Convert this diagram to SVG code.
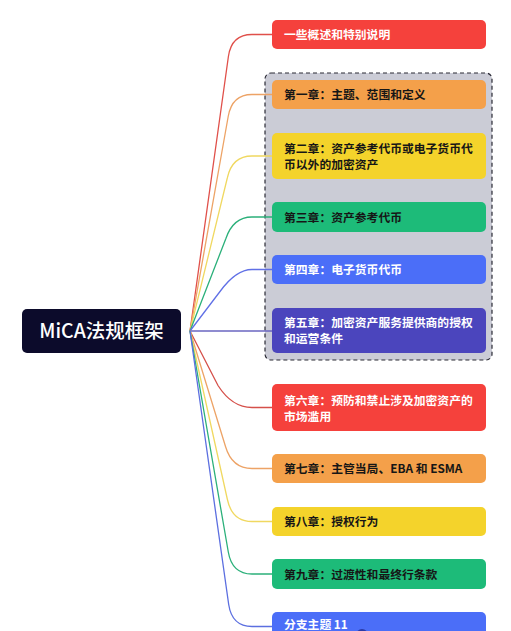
<svg xmlns="http://www.w3.org/2000/svg" width="511" height="631" viewBox="0 0 511 631">
<style>
.t{font-family:"Noto Sans CJK SC","Noto Sans",sans-serif;font-size:11.8px;font-weight:bold}
.w{fill:#ffffff}
.d{fill:#161616}
.c{fill:none;stroke-width:1.3}
</style>
<rect x="0" y="0" width="511" height="631" fill="#ffffff"/>
<g id="group-box">
<rect x="265" y="73" width="227" height="287" rx="6" fill="#cbccd6" stroke="#2a2a35" stroke-width="1.2" stroke-dasharray="4 3"/>
</g>
<g id="connectors">
<path class="c" stroke="#e0504a" d="M190,331 L228.4,56.5 Q231.5,34.5 252,34.5 L272,34.5"/>
<path class="c" stroke="#eda366" d="M190,331 L228.2,116.5 Q232,94.5 252,94.5 L272,94.5"/>
<path class="c" stroke="#f0d860" d="M190,331 L227.3,178 Q232,156 252,156 L272,156"/>
<path class="c" stroke="#2bb07a" d="M190,331 L225.7,239 Q233,217 252,217 L272,217"/>
<path class="c" stroke="#6070e6" d="M190,331 L220,291.5 Q236,269.5 252,269.5 L272,269.5"/>
<path class="c" stroke="#6a66c0" d="M190,331 L272,331"/>
<path class="c" stroke="#d5504a" d="M190,331 L218,385.5 Q232,407.5 252,407.5 L272,407.5"/>
<path class="c" stroke="#eda366" d="M190,331 L225.5,446.5 Q232,468.5 252,468.5 L272,468.5"/>
<path class="c" stroke="#f0d860" d="M190,331 L227.4,499.5 Q232,521.5 252,521.5 L272,521.5"/>
<path class="c" stroke="#2bb07a" d="M190,331 L228.3,552 Q232,574 252,574 L272,574"/>
<path class="c" stroke="#5c6fe0" d="M190,331 L228.7,604.5 Q232,626.5 252,626.5 L272,626.5"/>
</g>
<g id="root">
<rect x="22" y="309" width="159" height="44" rx="5" fill="#0c0b2b"/>
<text x="101.5" y="338" text-anchor="middle" font-family="'Noto Sans CJK SC','Noto Sans',sans-serif" font-size="19.5" font-weight="500" fill="#ffffff">MiCA法规框架</text>
</g>
<g id="node-overview">
<rect x="272" y="20" width="214" height="29" rx="5" fill="#f5413c"/>
<text class="t w" x="284" y="39">一些概述和特别说明</text>
</g>
<g id="node-ch1">
<rect x="272" y="80" width="214" height="29" rx="5" fill="#f4a04a"/>
<text class="t d" x="284" y="99">第一章：主题、范围和定义</text>
</g>
<g id="node-ch2">
<rect x="272" y="133" width="214" height="46" rx="5" fill="#f4d32b"/>
<text class="t d" x="284" y="152.5">第二章：资产参考代币或电子货币代</text>
<text class="t d" x="284" y="168.5">币以外的加密资产</text>
</g>
<g id="node-ch3">
<rect x="272" y="202" width="214" height="30" rx="5" fill="#1dbb79"/>
<text class="t d" x="284" y="221.5">第三章：资产参考代币</text>
</g>
<g id="node-ch4">
<rect x="272" y="255" width="214" height="29" rx="5" fill="#4b6ef8"/>
<text class="t w" x="284" y="274">第四章：电子货币代币</text>
</g>
<g id="node-ch5">
<rect x="272" y="308" width="214" height="45" rx="5" fill="#4b45bd"/>
<text class="t w" x="284" y="327">第五章：加密资产服务提供商的授权</text>
<text class="t w" x="284" y="343">和运营条件</text>
</g>
<g id="node-ch6">
<rect x="272" y="384" width="214" height="47" rx="5" fill="#f5413c"/>
<text class="t w" x="284" y="405">第六章：预防和禁止涉及加密资产的</text>
<text class="t w" x="284" y="421">市场滥用</text>
</g>
<g id="node-ch7">
<rect x="272" y="454" width="214" height="29" rx="5" fill="#f4a04a"/>
<text class="t d" x="284" y="473">第七章：主管当局、EBA 和 ESMA</text>
</g>
<g id="node-ch8">
<rect x="272" y="507" width="214" height="29" rx="5" fill="#f4d32b"/>
<text class="t d" x="284" y="526">第八章：授权行为</text>
</g>
<g id="node-ch9">
<rect x="272" y="559" width="214" height="30" rx="5" fill="#1dbb79"/>
<text class="t d" x="284" y="578.5">第九章：过渡性和最终行条款</text>
</g>
<g id="node-11">
<rect x="272" y="612" width="214" height="30" rx="5" fill="#4b6ef8"/>
<text class="t w" x="284" y="628.5">分支主题 11</text>
<circle cx="362" cy="635" r="6" fill="#2a3aa8"/>
</g>
</svg>
